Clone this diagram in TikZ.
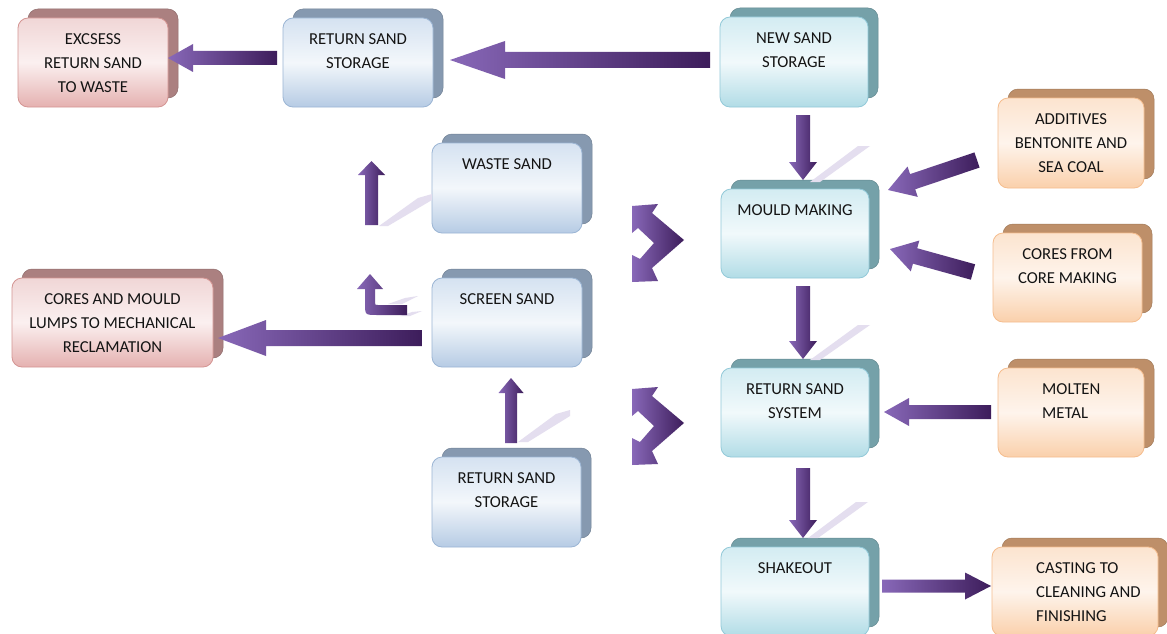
\documentclass[tikz,border=0pt]{standalone}
\usepackage{fontspec}
\setmainfont{Carlito}
\usetikzlibrary{calc}
\definecolor{bluB}{HTML}{9BB5D4}\definecolor{bluT}{HTML}{D5E2F1}\definecolor{bluM}{HTML}{F3F7FB}\definecolor{bluD}{HTML}{B6CBE4}\definecolor{bluK}{HTML}{8699B0}
\definecolor{cyaB}{HTML}{92C9D8}\definecolor{cyaT}{HTML}{D3ECF2}\definecolor{cyaM}{HTML}{F1F9FB}\definecolor{cyaD}{HTML}{B1DCE6}\definecolor{cyaK}{HTML}{75A1A9}
\definecolor{oraB}{HTML}{F5BD8E}\definecolor{oraT}{HTML}{FCE4CF}\definecolor{oraM}{HTML}{FEF4EC}\definecolor{oraD}{HTML}{FAD0AB}\definecolor{oraK}{HTML}{BE8F69}
\definecolor{pnkB}{HTML}{D49593}\definecolor{pnkT}{HTML}{F0D6D6}\definecolor{pnkM}{HTML}{FBF0F0}\definecolor{pnkD}{HTML}{E5B1B0}\definecolor{pnkK}{HTML}{AB8080}
\definecolor{arrL}{HTML}{8868B8}\definecolor{arrR}{HTML}{3D1D5B}
\definecolor{streak}{HTML}{E4DEEF}
\definecolor{txtc}{HTML}{141414}
\tikzset{
  frontbox/.style={rectangle, rounded corners=10pt, inner sep=0pt, outer sep=0pt, line width=0.8pt},
  blufront/.style={frontbox, draw=bluB, top color=bluT, bottom color=bluD, middle color=bluM},
  cyafront/.style={frontbox, draw=cyaB, top color=cyaT, bottom color=cyaD, middle color=cyaM},
  orafront/.style={frontbox, draw=oraB, top color=oraT, bottom color=oraD, middle color=oraM},
  pnkfront/.style={frontbox, draw=pnkB, top color=pnkT, bottom color=pnkD, middle color=pnkM},
  bluback/.style={fill=bluK, draw=bluK!85!black, line width=0.5pt},
  cyaback/.style={fill=cyaK, draw=cyaK!85!black, line width=0.5pt},
  oraback/.style={fill=oraK, draw=oraK!85!black, line width=0.5pt},
  pnkback/.style={fill=pnkK, draw=pnkK!85!black, line width=0.5pt},
  txt/.style={font=\fontsize{16.7}{24}\selectfont, align=center, inner sep=0pt, text=txtc, anchor=north},
  arrowsh/.style={left color=arrL, right color=arrR},
  streakfill/.style={fill=streak}
}
\newcommand{\mybox}[6]{%
  \path[#6back, rounded corners=10pt] ({#2+10},{#3-9}) rectangle ++(#4,#5);
  \node[#6front, minimum width=#4pt, minimum height=#5pt] (#1) at ({#2+#4/2},{#3+#5/2}) {};
}
\newcommand{\blkarrow}[5]{%
  \shade[arrowsh] let \p1=(#1), \p2=(#2), \n1={atan2(\y2-\y1,\x2-\x1)}, \n2={veclen(\x2-\x1,\y2-\y1)} in
   ([shift={(\p1)},rotate=\n1]0,#3) -- ([shift={(\p1)},rotate=\n1]{\n2-#5},#3)
   -- ([shift={(\p1)},rotate=\n1]{\n2-#5},#4) -- ([shift={(\p1)},rotate=\n1]\n2,0)
   -- ([shift={(\p1)},rotate=\n1]{\n2-#5},-#4) -- ([shift={(\p1)},rotate=\n1]{\n2-#5},-#3)
   -- ([shift={(\p1)},rotate=\n1]0,-#3) -- cycle;
}
\begin{document}
\begin{tikzpicture}[x=1pt,y=-1pt]
\useasboundingbox (0,0) rectangle (1167,634);
\clip (0,0) rectangle (1167,634);
\fill[white] (0,0) rectangle (1167,634);

% boxes
\mybox{ex}{18}{18}{150}{89}{pnk}
\mybox{rst}{283}{18}{150}{89}{blu}
\mybox{ns}{720}{17}{148}{90}{cya}
\mybox{ws}{432}{143}{150}{90}{blu}
\mybox{sc}{432}{278}{150}{89}{blu}
\mybox{rsb}{432}{457}{149}{90}{blu}
\mybox{cm}{12}{278}{201}{89}{pnk}
\mybox{mm}{721}{189}{148}{89}{cya}
\mybox{rss}{721}{368}{148}{89}{cya}
\mybox{sh}{721}{547}{148}{89}{cya}
\mybox{ad}{998}{98}{146}{90}{ora}
\mybox{cf}{993}{233}{149}{89}{ora}
\mybox{mo}{998}{368}{146}{89}{ora}
\mybox{ca}{992}{547}{166}{89}{ora}

% texts
\node[txt] (ext) at ([yshift=-15pt]ex.north) {EXCSESS\\RETURN SAND\\TO WASTE};
\node[txt] (rstt) at ([yshift=-15pt]rst.north) {RETURN SAND\\STORAGE};
\node[txt] (nst) at ([yshift=-15pt]ns.north) {NEW SAND\\STORAGE};
\node[txt] (wst) at ([yshift=-15pt]ws.north) {WASTE SAND};
\node[txt] (sct) at ([yshift=-15pt]sc.north) {SCREEN SAND};
\node[txt] (rsbt) at ([yshift=-15pt]rsb.north) {RETURN SAND\\STORAGE};
\node[txt] (cmt) at ([yshift=-15pt]cm.north) {CORES AND MOULD\\LUMPS TO MECHANICAL\\RECLAMATION};
\node[txt] (mmt) at ([yshift=-15pt]mm.north) {MOULD MAKING};
\node[txt] (rsst) at ([yshift=-15pt]rss.north) {RETURN SAND\\SYSTEM};
\node[txt] (sht) at ([yshift=-15pt]sh.north) {SHAKEOUT};
\node[txt] (adt) at ([yshift=-15pt]ad.north) {ADDITIVES\\BENTONITE AND\\SEA COAL};
\node[txt] (cft) at ([yshift=-15pt]cf.north) {CORES FROM\\CORE MAKING};
\node[txt, align=left, anchor=north west] (mot) at ([xshift=44pt,yshift=-15pt]mo.north west) {MOLTEN\\METAL};
\node[txt, align=left, anchor=north west] (cat) at ([xshift=44pt,yshift=-15pt]ca.north west) {CASTING TO\\CLEANING AND\\FINISHING};

% streaks (reflections)
\fill[streakfill] (810,182) -- (858,146) -- (870,146) -- (820,182) -- cycle;
\fill[streakfill] (810,360) -- (858,325) -- (870,325) -- (820,360) -- cycle;
\fill[streakfill] (808,538) -- (856,502) -- (868,502) -- (818,538) -- cycle;
\fill[streakfill] (379,226) -- (418,198) -- (432,194) -- (432,200) -- (388,226) -- cycle;
\fill[streakfill] (388,304) -- (405,298) -- (418,296) -- (402,304) -- cycle;
\fill[streakfill] (400,316) -- (412,312) -- (422,311) -- (410,316) -- cycle;
\fill[streakfill] (518,442) -- (556,414) -- (570,410) -- (570,416) -- (528,442) -- cycle;

% arrow end points
\coordinate (a1s) at (710,60);   \coordinate (a1e) at (450,60);
\coordinate (a2s) at (277,58);   \coordinate (a2e) at (168,58);
\coordinate (a3s) at (803,115);  \coordinate (a3e) at (803,180);
\coordinate (a4s) at (803,286);  \coordinate (a4e) at (803,359);
\coordinate (a5s) at (803,468);  \coordinate (a5e) at (803,538);
\coordinate (a6s) at (977,160);  \coordinate (a6e) at (888,190);
\coordinate (a7s) at (973,272);  \coordinate (a7e) at (890,249);
\coordinate (a8s) at (991,412);  \coordinate (a8e) at (884,412);
\coordinate (a9s) at (882,586);  \coordinate (a9e) at (991,586);
\coordinate (a10s) at (422,338); \coordinate (a10e) at (218,338);
\coordinate (a11s) at (371.5,225); \coordinate (a11e) at (371.5,161);
\coordinate (a12s) at (511,443); \coordinate (a12e) at (511,378);

\blkarrow{a1s}{a1e}{8}{19}{55}
\blkarrow{a2s}{a2e}{7}{14}{25}
\blkarrow{a3s}{a3e}{7}{14}{18}
\blkarrow{a4s}{a4e}{7}{14}{18}
\blkarrow{a5s}{a5e}{7}{14}{18}
\blkarrow{a6s}{a6e}{8}{16}{26}
\blkarrow{a7s}{a7e}{8}{16}{26}
\blkarrow{a8s}{a8e}{7}{14}{25}
\blkarrow{a9s}{a9e}{6.5}{13.5}{26}
\blkarrow{a10s}{a10e}{8}{18}{48}
\blkarrow{a11s}{a11e}{6.5}{13.5}{14}
\blkarrow{a12s}{a12e}{6}{12.5}{15}

% bent arrow
\shade[arrowsh] (407,305) -- (378,305) .. controls (375,305) .. (375,302) -- (375,289) -- (383,289) -- (370,274) -- (357,289) -- (365,289) -- (365,303) .. controls (365,315) .. (377,315) -- (407,315) -- cycle;

% chevron arrows
\foreach \dy in {0,183}{
  \shade[arrowsh, yshift=-\dy pt] (632,206) -- (658,204) -- (652,213) -- (684,240) -- (652,268) -- (658,281) -- (632,282) -- (632,255) -- (640,259) -- (654,243) -- (638,228) -- (632,233) -- cycle;
}
\end{tikzpicture}
\end{document}
